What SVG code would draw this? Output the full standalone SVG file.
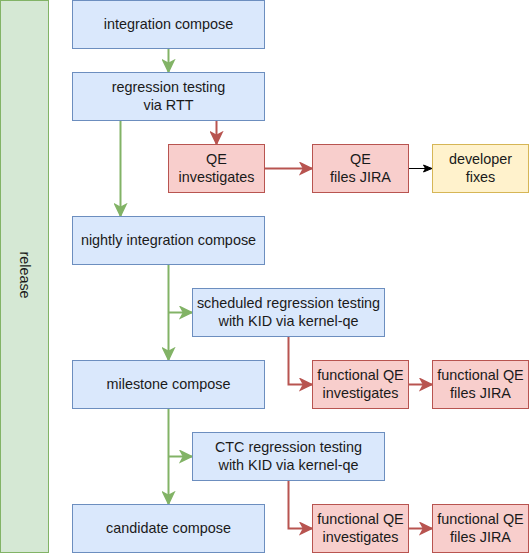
<svg xmlns="http://www.w3.org/2000/svg" width="531" height="555" viewBox="0 0 531 555">
<style>
text{font-family:"Liberation Sans",Arial,Helvetica,sans-serif;font-size:14.4px;fill:#1a1a1a;text-anchor:middle}
.blue{fill:#dae8fc;stroke:#6c8ebf;stroke-width:1}
.red{fill:#f8cecc;stroke:#b85450;stroke-width:1}
.yellow{fill:#fff2cc;stroke:#d6b656;stroke-width:1}
.green{fill:#d5e8d4;stroke:#82b366;stroke-width:1}
.eg{fill:none;stroke:#82b366;stroke-width:2}
.er{fill:none;stroke:#b85450;stroke-width:2}
.ek{fill:none;stroke:#000;stroke-width:1}
</style>
<defs>
<marker id="ag" viewBox="0 0 14 14" markerWidth="14" markerHeight="14" refX="13" refY="7" orient="auto" markerUnits="userSpaceOnUse"><path d="M1.5,1.5 L13,7 L1.5,12.5 L4.5,7 Z" fill="#82b366" stroke="#82b366" stroke-width="1.5"/></marker>
<marker id="ar" viewBox="0 0 14 14" markerWidth="14" markerHeight="14" refX="13" refY="7" orient="auto" markerUnits="userSpaceOnUse"><path d="M1.5,1.5 L13,7 L1.5,12.5 L4.5,7 Z" fill="#b85450" stroke="#b85450" stroke-width="1.5"/></marker>
<marker id="ak" viewBox="0 0 10 10" markerWidth="10" markerHeight="10" refX="9.5" refY="5" orient="auto" markerUnits="userSpaceOnUse"><path d="M1,1.5 L9.5,5 L1,8.5 L3,5 Z" fill="#000" stroke="#000" stroke-width="1"/></marker>
</defs>
<g id="release"><rect class="green" x="0.5" y="0.5" width="48" height="552"/><text transform="translate(24.5,275) rotate(90)" y="5">release</text></g>
<g id="connectors">
<path class="eg" d="M168.5,48.5 V72" marker-end="url(#ag)"/>
<path class="er" d="M216.5,120.5 V144" marker-end="url(#ar)"/>
<path class="eg" d="M120.5,120.5 V216" marker-end="url(#ag)"/>
<path class="er" d="M264.5,168.5 H312" marker-end="url(#ar)"/>
<path class="ek" d="M408.5,168.5 H432" marker-end="url(#ak)"/>
<path class="eg" d="M168.5,264.5 V360" marker-end="url(#ag)"/>
<path class="eg" d="M168.5,312.5 H192" marker-end="url(#ag)"/>
<path class="er" d="M288.5,336.5 V384.5 H312" marker-end="url(#ar)"/>
<path class="er" d="M408.5,384.5 H432" marker-end="url(#ar)"/>
<path class="eg" d="M168.5,408.5 V504" marker-end="url(#ag)"/>
<path class="eg" d="M168.5,456.5 H192" marker-end="url(#ag)"/>
<path class="er" d="M288.5,480.5 V528.5 H312" marker-end="url(#ar)"/>
<path class="er" d="M408.5,528.5 H432" marker-end="url(#ar)"/>
</g>
<g id="integration"><rect class="blue" x="72.5" y="0.5" width="192" height="48"/><text x="168.5" y="28.5">integration compose</text></g>
<g id="rtt"><rect class="blue" x="72.5" y="72.5" width="192" height="48"/><text x="168.5" y="92">regression testing</text><text x="168.5" y="110">via RTT</text></g>
<g id="qe-inv"><rect class="red" x="168.5" y="144.5" width="96" height="48"/><text x="216.5" y="164">QE</text><text x="216.5" y="182">investigates</text></g>
<g id="qe-jira"><rect class="red" x="312.5" y="144.5" width="96" height="48"/><text x="360.5" y="164">QE</text><text x="360.5" y="182">files JIRA</text></g>
<g id="dev"><rect class="yellow" x="432.5" y="144.5" width="96" height="48"/><text x="480.5" y="164">developer</text><text x="480.5" y="182">fixes</text></g>
<g id="nightly"><rect class="blue" x="72.5" y="216.5" width="192" height="48"/><text x="168.5" y="244.5">nightly integration compose</text></g>
<g id="scheduled"><rect class="blue" x="192.5" y="288.5" width="192" height="48"/><text x="288.5" y="308">scheduled regression testing</text><text x="288.5" y="326">with KID via kernel-qe</text></g>
<g id="milestone"><rect class="blue" x="72.5" y="360.5" width="192" height="48"/><text x="168.5" y="388.5">milestone compose</text></g>
<g id="fqe-inv1"><rect class="red" x="312.5" y="360.5" width="96" height="48"/><text x="360.5" y="380">functional QE</text><text x="360.5" y="398">investigates</text></g>
<g id="fqe-jira1"><rect class="red" x="432.5" y="360.5" width="96" height="48"/><text x="480.5" y="380">functional QE</text><text x="480.5" y="398">files JIRA</text></g>
<g id="ctc"><rect class="blue" x="192.5" y="432.5" width="192" height="48"/><text x="288.5" y="452">CTC regression testing</text><text x="288.5" y="470">with KID via kernel-qe</text></g>
<g id="candidate"><rect class="blue" x="72.5" y="504.5" width="192" height="48"/><text x="168.5" y="532.5">candidate compose</text></g>
<g id="fqe-inv2"><rect class="red" x="312.5" y="504.5" width="96" height="48"/><text x="360.5" y="524">functional QE</text><text x="360.5" y="542">investigates</text></g>
<g id="fqe-jira2"><rect class="red" x="432.5" y="504.5" width="96" height="48"/><text x="480.5" y="524">functional QE</text><text x="480.5" y="542">files JIRA</text></g>
</svg>
